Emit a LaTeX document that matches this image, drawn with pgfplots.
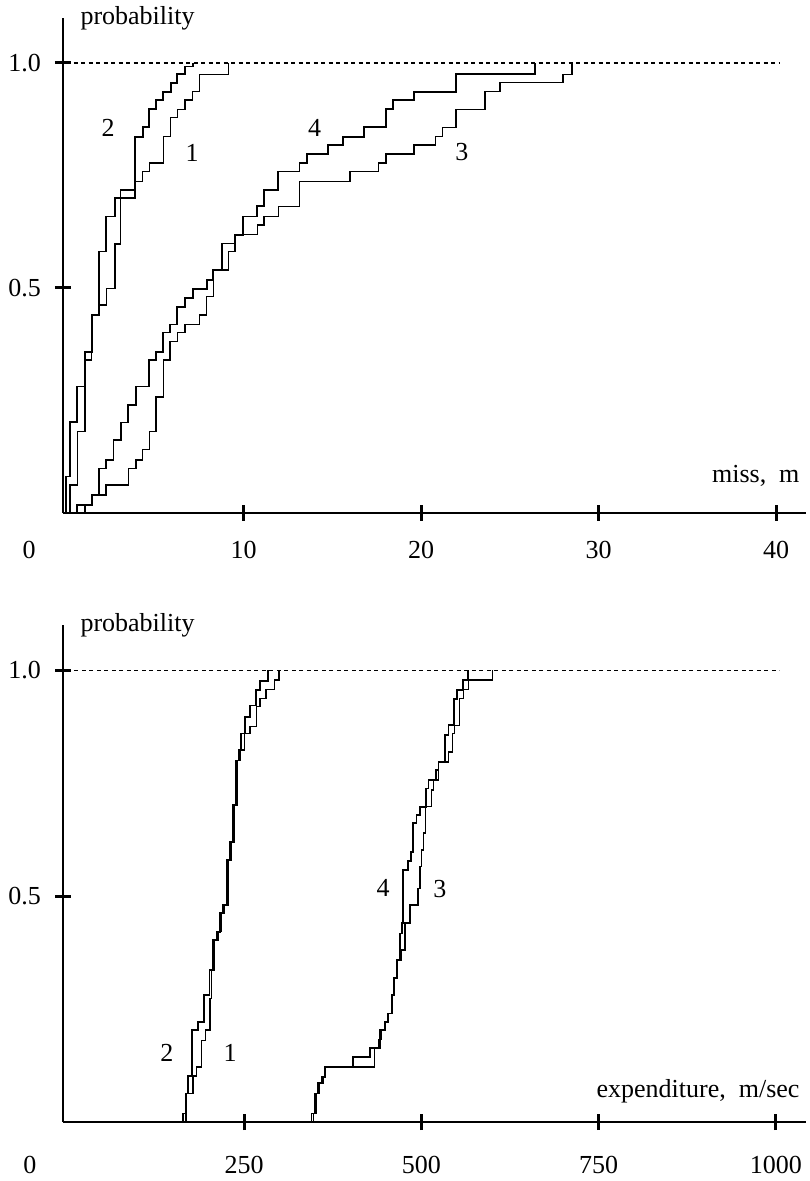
\documentclass[border=0pt]{standalone}
\usepackage{fontspec}
\setmainfont{Liberation Serif}
\usepackage{pgfplots}
\pgfplotsset{compat=1.18}

\pgfplotsset{
  cdf/.style={
    scale only axis, width=743bp, clip=false,
    axis lines=left, axis line style={-, line width=1.5bp},
    ymin=0, ymax=1.1,
    ytick={0.5,1.0}, yticklabels={0.5,1.0},
    tick align=center, major tick length=16bp,
    tick style={line width=3bp, black},
    tick label style={font=\fontsize{26bp}{30bp}\selectfont, inner sep=0pt},
    yticklabel style={anchor=east, xshift=-14bp},
    no markers,
  },
  thk/.style={const plot, black, line width=1.8bp},
  thn/.style={const plot, black, line width=1.4bp},
  lim/.style={black, line width=1.3bp, dash pattern=on 4bp off 3.5bp},
}

\begin{document}
\begin{tikzpicture}[font=\fontsize{26bp}{30bp}\selectfont]
\useasboundingbox (0bp,0bp) rectangle (810bp,1181bp);

% top: miss distance
\begin{axis}[cdf, at={(63bp,668bp)}, anchor=south west, height=495bp,
  xmin=-0.17, xmax=41.69,
  xtick={10,20,30,40}, xticklabels={10,20,30,40},
  xticklabel style={anchor=center, yshift=-29bp}]
\addplot[lim] coordinates {(0,1) (40.2,1)};
% curve 1
\addplot[thn] table {
0.23 0
0.23 0.062
0.64 0.181
1.07 0.34
1.45 0.44
1.88 0.462
2.29 0.499
2.76 0.598
3.08 0.718
3.89 0.737
4.32 0.759
4.69 0.778
5.48 0.836
5.90 0.879
6.27 0.897
6.70 0.918
7.14 0.936
7.51 0.975
9.14 1.0
};
% curve 2
\addplot[thk] table {
0 0
0 0.081
0.23 0.203
0.64 0.281
1.07 0.358
1.45 0.44
1.88 0.581
2.25 0.659
2.76 0.70
3.89 0.836
4.32 0.857
4.69 0.897
5.07 0.918
5.48 0.936
5.90 0.956
6.27 0.975
6.70 0.992
7.14 1.0
};
% curve 3
\addplot[thn] table {
1.07 0
1.07 0.018
1.45 0.04
2.25 0.062
3.51 0.099
3.94 0.118
4.32 0.141
4.69 0.181
5.07 0.258
5.48 0.34
5.86 0.381
6.27 0.401
6.70 0.419
7.51 0.44
7.93 0.481
8.30 0.54
9.14 0.581
9.52 0.619
10.78 0.64
11.15 0.659
11.96 0.681
13.15 0.736
16.0 0.759
17.6 0.778
18.03 0.798
19.6 0.818
20.8 0.836
21.2 0.857
21.97 0.897
23.6 0.936
24.45 0.956
28.0 0.975
28.5 1.0
};
% curve 4
\addplot[thk] table {
0.64 0
0.64 0.018
1.45 0.04
1.88 0.099
2.25 0.118
2.67 0.162
3.08 0.201
3.51 0.24
3.94 0.281
4.69 0.34
5.07 0.358
5.48 0.401
5.86 0.419
6.27 0.458
6.70 0.477
7.14 0.497
7.93 0.518
8.30 0.54
8.77 0.599
9.52 0.618
9.95 0.659
10.78 0.682
11.15 0.718
11.96 0.759
13.15 0.778
13.56 0.798
14.78 0.818
15.59 0.836
16.79 0.857
18.03 0.897
18.4 0.918
19.6 0.936
21.97 0.975
26.42 1.0
};
\node at (axis cs:2.37,0.856) {2};
\node at (axis cs:7.1,0.80) {1};
\node at (axis cs:14.0,0.856) {4};
\node at (axis cs:22.3,0.802) {3};
\node[anchor=base west] at (rel axis cs:0,1) [xshift=14bp, yshift=-7bp] {probability};
\node[anchor=east] at (rel axis cs:1,0) [xshift=-3bp, yshift=37bp] {miss,\enspace m};
\node at (axis cs:0,0) [xshift=-37bp, yshift=-37bp] {0};
\end{axis}

% bottom: expenditure
\begin{axis}[cdf, at={(63bp,59bp)}, anchor=south west, height=497bp,
  xmin=-5.6, xmax=1042.4,
  xtick={250,500,750,1000}, xticklabels={250,500,750,1000},
  xticklabel style={anchor=center, yshift=-35bp}]
\addplot[lim] coordinates {(0,1) (1005,1)};
% curve 1
\addplot[thn] table {
168 0
168 0.063
178 0.102
183 0.122
190 0.181
195 0.204
202 0.274
204 0.336
208 0.403
213 0.421
218 0.462
222 0.48
228 0.58
232 0.62
236 0.701
240 0.80
245 0.823
250 0.86
258 0.875
267 0.919
272 0.937
281 0.957
293 0.978
299 1.0
};
% curve 2
\addplot[thk] table {
164 0
164 0.019
168 0.063
171 0.102
176 0.204
185 0.222
193 0.281
201 0.336
206 0.403
211 0.421
216 0.462
220 0.48
226 0.58
230 0.62
234 0.701
238 0.80
243 0.823
246 0.86
251 0.897
258 0.922
267 0.956
272 0.976
284 1.0
};
% curve 3
\addplot[thn] table {
348 0
348 0.019
352 0.063
356 0.086
361 0.10
364 0.122
434 0.163
439 0.183
444 0.204
449 0.222
453 0.24
458 0.281
461 0.318
466 0.358
472 0.381
477 0.44
484 0.48
495 0.517
498 0.565
500 0.602
503 0.64
506 0.698
514 0.735
517 0.757
524 0.797
538 0.819
544 0.86
547 0.878
554 0.937
559 0.957
566 0.978
600 1.0
};
% curve 4
\addplot[thk] table {
345 0
345 0.019
350 0.063
354 0.086
359 0.10
364 0.122
404 0.143
427 0.163
441 0.204
449 0.222
453 0.24
458 0.281
461 0.318
466 0.358
470 0.417
472 0.44
474 0.558
481 0.578
485 0.598
488 0.661
493 0.679
498 0.698
506 0.738
510 0.757
521 0.779
524 0.797
533 0.856
538 0.878
546 0.937
550 0.957
559 0.978
566 1.0
};
\node at (axis cs:141,0.153) {2};
\node at (axis cs:230,0.153) {1};
\node at (axis cs:446,0.518) {4};
\node at (axis cs:526,0.515) {3};
\node[anchor=base west] at (rel axis cs:0,1) [xshift=14bp, yshift=-7bp] {probability};
\node[anchor=east] at (rel axis cs:1,0) [xshift=-3bp, yshift=31bp] {expenditure,\enspace m/sec};
\node at (axis cs:0,0) [xshift=-37bp, yshift=-43bp] {0};
\end{axis}
\end{tikzpicture}
\end{document}
